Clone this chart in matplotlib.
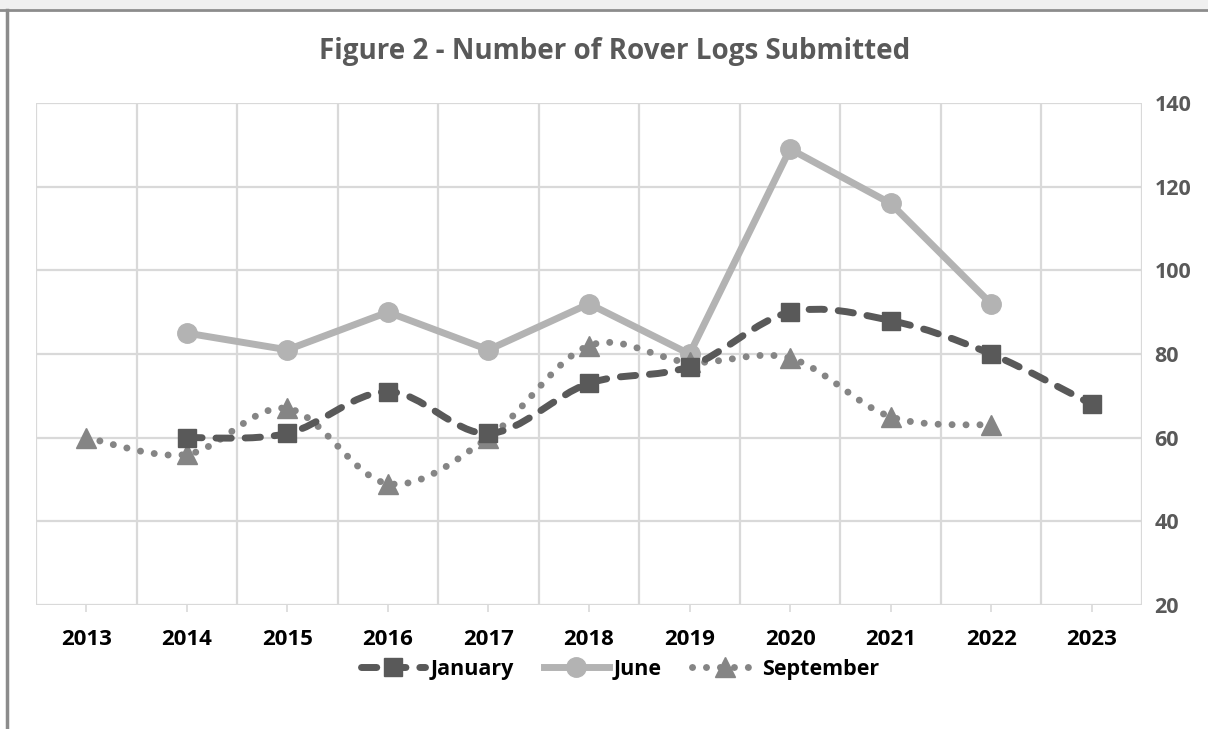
import numpy as np
import matplotlib
matplotlib.use("Agg")
import matplotlib.pyplot as plt
from matplotlib.path import Path
from matplotlib.patches import PathPatch, Rectangle
from matplotlib.lines import Line2D

years = ["2013", "2014", "2015", "2016", "2017", "2018", "2019", "2020", "2021", "2022", "2023"]
january = [None, 60, 61, 71, 61, 73, 77, 90, 88, 80, 68]
june = [None, 85, 81, 90, 81, 92, 80, 129, 116, 92, None]
september = [60, 56, 67, 49, 60, 82, 78, 79, 65, 63, None]
y_ticks = [20, 40, 60, 80, 100, 120, 140]

plt.rcParams['font.family'] = ['Open Sans', 'DejaVu Sans']

C_JAN = "#595959"
C_JUN = "#b3b3b3"
C_SEP = "#858585"
C_GRID = "#d9d9d9"

fig = plt.figure(figsize=(12.08, 7.29), dpi=100)
fig.patch.set_facecolor("white")

# outer frame decorations
fig.patches.append(Rectangle((0, 1 - 9/729), 1, 9/729, transform=fig.transFigure,
                             facecolor="#f0f0f0", edgecolor="none", zorder=0))
fig.lines.append(Line2D([0, 1], [1 - 10/729, 1 - 10/729], transform=fig.transFigure,
                        color="#8c8c8c", lw=2))
fig.lines.append(Line2D([7/1208, 7/1208], [0, 1 - 10/729], transform=fig.transFigure,
                        color="#8c8c8c", lw=2.5))

ax = fig.add_axes([36/1208, (729-605)/729, (1142-36)/1208, (605-103)/729])
x = np.arange(len(years))
ax.set_xlim(-0.5, len(years) - 0.5)
ax.set_ylim(20, 140)

# grid
for b in np.arange(-0.5, len(years), 1.0):
    ax.axvline(b, color=C_GRID, lw=1.6, zorder=0)
for t in y_ticks:
    ax.axhline(t, color=C_GRID, lw=1.6, zorder=0)
for s in ax.spines.values():
    s.set_visible(False)

ax.set_xticks(x)
ax.set_xticklabels(years, fontsize=16, fontweight="bold", color="black")
ax.tick_params(axis="x", length=5, width=1.2, color=C_GRID, pad=12)
ax.yaxis.tick_right()
ax.set_yticks(y_ticks)
ax.set_yticklabels([str(t) for t in y_ticks], fontsize=15.5, fontweight="bold", color=C_JAN)
ax.tick_params(axis="y", length=0, pad=9)


def smooth_path(xs, ys, tension=1/6):
    pts = [(xi, yi) for xi, yi in zip(xs, ys) if yi is not None]
    verts = [pts[0]]
    codes = [Path.MOVETO]
    n = len(pts)
    for i in range(n - 1):
        p0 = pts[i - 1] if i > 0 else pts[i]
        p1 = pts[i]
        p2 = pts[i + 1]
        p3 = pts[i + 2] if i + 2 < n else pts[i + 1]
        c1 = (p1[0] + (p2[0] - p0[0]) * tension, p1[1] + (p2[1] - p0[1]) * tension)
        c2 = (p2[0] - (p3[0] - p1[0]) * tension, p2[1] - (p3[1] - p1[1]) * tension)
        verts += [c1, c2, p2]
        codes += [Path.CURVE4] * 3
    return Path(verts, codes)


def valid(vals):
    xs = [xi for xi, v in zip(x, vals) if v is not None]
    ys = [v for v in vals if v is not None]
    return xs, ys

jan_ls = (0, (2.2, 2.0))
sep_ls = (0, (0.01, 2.0))

# September (smoothed dotted)
sx, sy = valid(september)
ax.add_patch(PathPatch(smooth_path(x, september), facecolor="none", edgecolor=C_SEP, lw=5,
                       linestyle=sep_ls, capstyle="round", zorder=3))
ax.plot(sx, sy, linestyle="none", marker="^", ms=14, color=C_SEP, zorder=4)

# June (straight solid)
jx, jy = valid(june)
ax.plot(jx, jy, color=C_JUN, lw=5, marker="o", ms=14, zorder=3, solid_capstyle="round")

# January (smoothed dashed)
ax.add_patch(PathPatch(smooth_path(x, january), facecolor="none", edgecolor=C_JAN, lw=5,
                       linestyle=jan_ls, capstyle="round", zorder=5))
ax_, ay_ = valid(january)
ax.plot(ax_, ay_, linestyle="none", marker="s", ms=13, color=C_JAN, zorder=6)

# Title
fig.text(615/1208, 1 - 51/729, "Figure 2 - Number of Rover Logs Submitted", ha="center", va="center",
         fontsize=20, fontweight="bold", color=C_JAN)

handles = [
    Line2D([], [], color=C_JAN, lw=5, linestyle=jan_ls, dash_capstyle="round", marker="s", ms=13),
    Line2D([], [], color=C_JUN, lw=5, marker="o", ms=14),
    Line2D([], [], color=C_SEP, lw=5, linestyle=sep_ls, dash_capstyle="round", marker="^", ms=14),
]
fig.legend(handles, ["January", "June", "September"], loc="center", bbox_to_anchor=(620/1208, 1 - 669/729),
           ncol=3, frameon=False, prop={"size": 15.5, "weight": "bold"}, handlelength=3.0,
           columnspacing=1.4, handletextpad=0.25)

fig.savefig("out.png", dpi=100)
